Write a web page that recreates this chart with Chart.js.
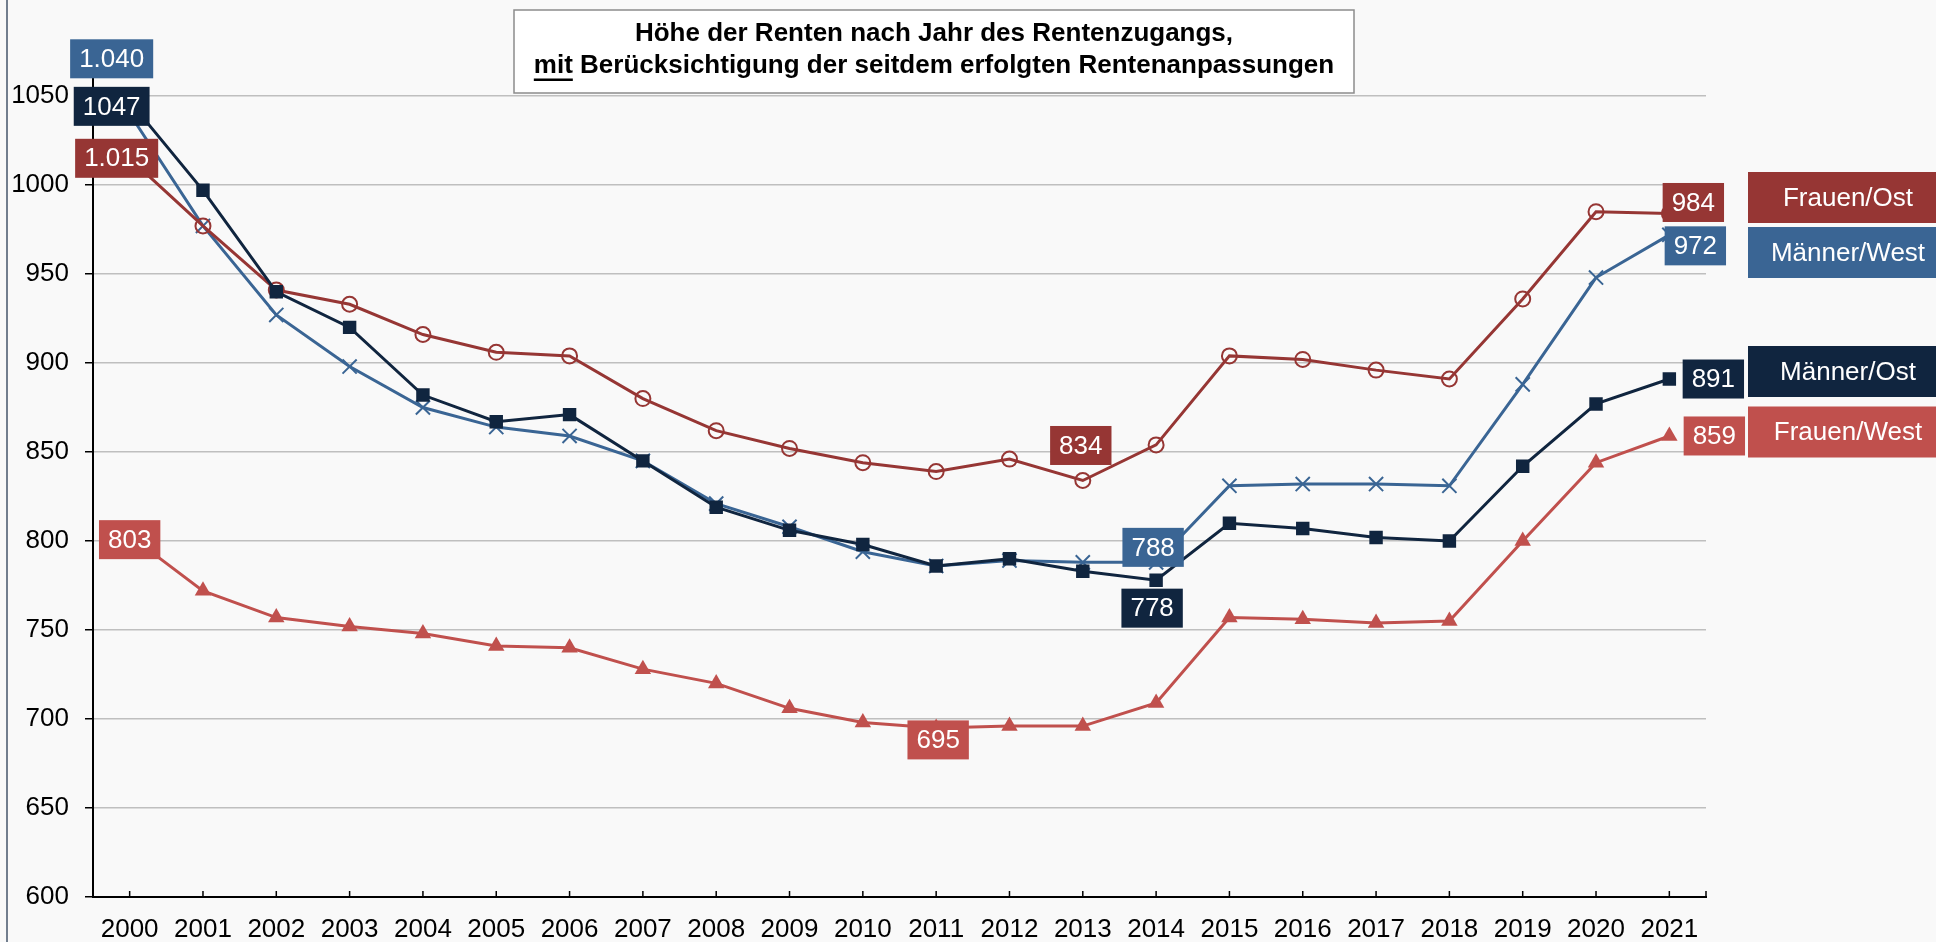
<!DOCTYPE html>
<html>
<head>
<meta charset="utf-8">
<script src="https://cdn.jsdelivr.net/npm/chart.js@4.4.1/dist/chart.umd.min.js"></script>
<style>
  html, body { margin: 0; padding: 0; background: #f9f9f9; }
  #wrap { width: 1936px; height: 942px; position: relative; }
</style>
</head>
<body>
<div id="wrap"><canvas id="renten"></canvas></div>
<script>
const jahre = ['2000', '2001', '2002', '2003', '2004', '2005', '2006', '2007', '2008', '2009', '2010',
               '2011', '2012', '2013', '2014', '2015', '2016', '2017', '2018', '2019', '2020', '2021'];

const maennerOst  = [1047, 997, 940, 920, 882, 867, 871, 845, 819, 806, 798, 786, 790, 783, 778, 810, 807, 802, 800, 842, 877, 891];
const frauenOst   = [1015, 977, 941, 933, 916, 906, 904, 880, 862, 852, 844, 839, 846, 834, 854, 904, 902, 896, 891, 936, 985, 984];
const maennerWest = [1040, 977, 927, 898, 875, 864, 859, 845, 821, 808, 794, 786, 789, 788, 788, 831, 832, 832, 831, 888, 948, 972];
const frauenWest  = [803, 772, 757, 752, 748, 741, 740, 728, 720, 706, 698, 695, 696, 696, 709, 757, 756, 754, 755, 800, 844, 859];

const yTicks = [600, 650, 700, 750, 800, 850, 900, 950, 1000, 1050];

const FONT = '"Liberation Sans", Arial, sans-serif';
const farben = {
  maennerOst: '#10253f',
  frauenOst: '#963634',
  maennerWest: '#3a6594',
  frauenWest: '#c0504d'
};

// which points get a value box, and where the box sits relative to the point
const wertBoxen = [
  { set: 0, idx: 0,  dx: -18, dy: 5 },
  { set: 0, idx: 14, dx: -4,  dy: 28 },
  { set: 0, idx: 21, dx: 44,  dy: 0 },
  { set: 1, idx: 0,  dx: -13, dy: 0,   punkt: true },
  { set: 1, idx: 13, dx: -2,  dy: -35 },
  { set: 1, idx: 21, dx: 24,  dy: -11 },
  { set: 2, idx: 0,  dx: -18, dy: -55, punkt: true },
  { set: 2, idx: 14, dx: -3,  dy: -15 },
  { set: 2, idx: 21, dx: 26,  dy: 11 },
  { set: 3, idx: 0,  dx: 0,   dy: 4 },
  { set: 3, idx: 11, dx: 2,   dy: 12 },
  { set: 3, idx: 21, dx: 45,  dy: 0 }
];

// legend boxes at the right edge
const legende = [
  { set: 1, y: 197.5 },
  { set: 2, y: 252.5 },
  { set: 0, y: 371.5 },
  { set: 3, y: 432 }
];

function tausender(v) {
  return String(v).replace(/\B(?=(\d{3})+(?!\d))/g, '.');
}

const hintergrund = {
  id: 'hintergrund',
  beforeDraw(chart) {
    const c = chart.ctx;
    c.save();
    c.fillStyle = '#f9f9f9';
    c.fillRect(0, 0, chart.width, chart.height);
    c.strokeStyle = '#44546a';
    c.lineWidth = 1.5;
    c.beginPath();
    c.moveTo(7, 0);
    c.lineTo(7, chart.height);
    c.stroke();
    c.restore();
  }
};

const xStriche = {
  id: 'xStriche',
  afterDraw(chart) {
    const c = chart.ctx;
    const xs = chart.scales.x;
    const unten = chart.chartArea.bottom;
    c.save();
    c.strokeStyle = '#000';
    c.lineWidth = 1.5;
    c.beginPath();
    for (let i = 0; i < xs.ticks.length; i++) {
      const px = xs.getPixelForTick(i);
      c.moveTo(px, unten);
      c.lineTo(px, unten - 6);
    }
    c.moveTo(chart.chartArea.right, unten);
    c.lineTo(chart.chartArea.right, unten - 6);
    c.stroke();
    c.restore();
  }
};

const wertLabels = {
  id: 'wertLabels',
  afterDatasetsDraw(chart) {
    const c = chart.ctx;
    c.save();
    c.font = '26px ' + FONT;
    c.textAlign = 'center';
    c.textBaseline = 'middle';
    wertBoxen.forEach(b => {
      const ds = chart.data.datasets[b.set];
      const v = ds.data[b.idx];
      const text = b.punkt ? tausender(v) : String(v);
      const px = chart.scales.x.getPixelForValue(b.idx);
      const py = chart.scales.y.getPixelForValue(v);
      const cx = px + b.dx, cy = py + b.dy;
      const w = c.measureText(text).width + 18;
      const h = 39;
      c.fillStyle = ds.borderColor;
      c.fillRect(cx - w / 2, cy - h / 2, w, h);
      c.fillStyle = '#fff';
      c.fillText(text, cx, cy + 1);
    });
    c.restore();
  }
};

const rahmen = {
  id: 'rahmen',
  afterDraw(chart) {
    const c = chart.ctx;
    c.save();
    // title box
    c.fillStyle = '#fff';
    c.fillRect(514, 10, 840, 83);
    c.strokeStyle = '#8c8c8c';
    c.lineWidth = 1.5;
    c.strokeRect(514, 10, 840, 83);
    c.fillStyle = '#000';
    c.font = 'bold 26px ' + FONT;
    c.textAlign = 'center';
    c.textBaseline = 'alphabetic';
    c.fillText('Höhe der Renten nach Jahr des Rentenzugangs,', 934, 41);
    const zeile2 = 'mit Berücksichtigung der seitdem erfolgten Rentenanpassungen';
    c.fillText(zeile2, 934, 73);
    const ganz = c.measureText(zeile2).width;
    const mit = c.measureText('mit').width;
    const start = 934 - ganz / 2;
    c.fillRect(start, 78.5, mit, 2.5);

    // legend
    c.font = '26px ' + FONT;
    c.textBaseline = 'middle';
    legende.forEach(e => {
      const ds = chart.data.datasets[e.set];
      c.fillStyle = ds.borderColor;
      c.fillRect(1748, e.y - 25.5, 200, 51);
      c.fillStyle = '#fff';
      c.fillText(ds.label, 1848, e.y + 1);
    });
    c.restore();
  }
};

const datasets = [
  {
    label: 'Männer/Ost', data: maennerOst,
    borderColor: farben.maennerOst, backgroundColor: farben.maennerOst,
    pointStyle: 'rect', pointRadius: 9.5, pointBackgroundColor: farben.maennerOst, pointBorderWidth: 0
  },
  {
    label: 'Frauen/Ost', data: frauenOst,
    borderColor: farben.frauenOst, backgroundColor: farben.frauenOst,
    pointStyle: 'circle', pointRadius: 7.5, pointBackgroundColor: 'rgba(0,0,0,0)', pointBorderWidth: 2
  },
  {
    label: 'Männer/West', data: maennerWest,
    borderColor: farben.maennerWest, backgroundColor: farben.maennerWest,
    pointStyle: 'crossRot', pointRadius: 10, pointBorderWidth: 2
  },
  {
    label: 'Frauen/West', data: frauenWest,
    borderColor: farben.frauenWest, backgroundColor: farben.frauenWest,
    pointStyle: 'triangle', pointRadius: 9.5, pointBackgroundColor: farben.frauenWest, pointBorderWidth: 0
  }
];
datasets.forEach(d => {
  d.borderWidth = 3;
  d.tension = 0;
  d.pointHoverRadius = d.pointRadius;
  d.pointBorderColor = d.borderColor;
});

new Chart(document.getElementById('renten'), {
  type: 'line',
  data: { labels: jahre, datasets: datasets },
  plugins: [hintergrund, wertLabels, xStriche, rahmen],
  options: {
    responsive: true,
    maintainAspectRatio: false,
    animation: false,
    layout: { padding: { left: 0, right: 230, top: 42.6, bottom: 0 } },
    plugins: {
      legend: { display: false },
      title: { display: false },
      tooltip: { enabled: false }
    },
    scales: {
      x: {
        offset: true,
        grid: { display: true, drawOnChartArea: false, drawTicks: false },
        border: { display: true, color: '#000', width: 2 },
        ticks: {
          color: '#000', padding: 17, maxRotation: 0, autoSkip: false,
          font: { family: FONT, size: 26 }
        },
        afterFit(s) { s.height = 45; }
      },
      y: {
        min: 600,
        max: 1080,
        afterBuildTicks(s) {
          s.ticks = yTicks.map(v => ({ value: v }));
        },
        grid: { color: '#bfbfbf', lineWidth: 1.5, tickColor: '#000', tickLength: 8, tickWidth: 1.5 },
        border: { display: true, color: '#000', width: 2 },
        ticks: {
          color: '#000', padding: 16,
          font: { family: FONT, size: 26 },
          callback: v => String(v)
        },
        afterFit(s) { s.width = 93; }
      }
    }
  }
});
</script>
</body>
</html>
